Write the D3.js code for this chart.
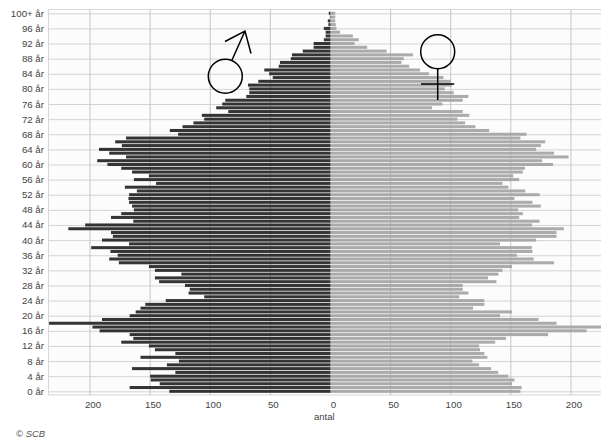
<!DOCTYPE html>
<html>
<head>
<meta charset="utf-8">
<script src="https://cdn.jsdelivr.net/npm/d3@7"></script>
<style>
html, body { margin:0; padding:0; background:#fff; }
svg { display:block; }
text { font-family:"Liberation Sans", Arial, sans-serif; }
</style>
</head>
<body>
<svg></svg>
<script>
// ages 0 .. 100+
var men = [134,167,142,149.5,150,129,165,136,126,158,129,146,151,174,164,167,192,198,234,190,
  167,162,158,154,137,105,118,117,121,142.5,146,124,146,151,176,184,177,183,199,167.5,
  190,181,182.5,218,204,164,182.5,174,163.5,165,167.5,168,167.5,161,171,145,163.5,151,165,174,
  185.5,194,170,184,192.5,173.5,179,170,126.7,133.6,123,114,105,107,85,95,90,87.5,70,67.5,
  67.5,68.6,60,48,51,55,43,42,33,32,23,14,14,5.5,4,4,5.5,1.7,2.2,0.5,1.4];
var women = [158,159,151,153,148,139.5,133.6,123.6,118,130.5,128,124.4,123.6,137,146,181,213,226,188,173,
  141,151,118.6,128,128,107,114.7,110,110,138,131,139.7,143,151,186,169,155,168,167.5,141,
  171,188,188,194,167.5,174,157,160,156,175,168,153,174,162,148,143,157,152,160,161.7,
  185,176,198,186,171,175,178.6,158,163,132,120.5,112,105.5,115.5,110,84.4,93,110,114.7,102.5,
  95,101,100,94,82,74.4,65.5,59,61,68.6,46.7,30.5,20,23.6,18.6,8,5,4.5,4,4,4];
var ages = d3.range(0,101);
var ageTicks = d3.range(0,101,4);
var xTicks = [-200,-150,-100,-50,0,50,100,150,200];

var screen = { width:601, height:439 };
var plot = { left:48.5, right:601, top:9.5, bottom:395 };

var svg = d3.select("svg")
            .attr("width",screen.width)
            .attr("height",screen.height);

// the source picture is a soft jpeg, the bars need a touch of blur
svg.append("defs")
   .append("filter")
   .attr("id","soft")
   .attr("x","-2%").attr("y","-2%")
   .attr("width","104%").attr("height","104%")
   .append("feGaussianBlur")
   .attr("stdDeviation",0.35);

var xScale = d3.scaleLinear()
               .domain([-234.5,225])
               .range([plot.left,plot.right]);

var yScale = d3.scaleBand()
               .domain(ages)
               .range([393.2,11.4])
               .paddingInner(0.2)
               .paddingOuter(0.1);

var yMid = function(a){ return yScale(a)+yScale.bandwidth()/2; };

svg.append("rect")
   .attr("x",plot.left)
   .attr("y",plot.top)
   .attr("width",plot.right-plot.left)
   .attr("height",plot.bottom-plot.top)
   .attr("fill","#fcfcfc");

// frame lines
svg.append("path")
   .attr("d","M"+plot.left+","+plot.bottom+"V"+plot.top+"H"+plot.right)
   .attr("fill","none")
   .attr("stroke","#d8d8d8");

svg.append("line")
   .attr("x1",plot.left).attr("x2",plot.right)
   .attr("y1",plot.bottom).attr("y2",plot.bottom)
   .attr("stroke","#d8d8d8");

// grid
svg.selectAll(".hgrid")
   .data(ageTicks)
   .enter()
   .append("line")
   .attr("class","hgrid")
   .attr("x1",plot.left).attr("x2",plot.right)
   .attr("y1",function(d){return yMid(d)+0.5;})
   .attr("y2",function(d){return yMid(d)+0.5;})
   .attr("stroke","#d4d4d4");

svg.selectAll(".vgrid")
   .data(xTicks.filter(function(d){return d!=0;}))
   .enter()
   .append("line")
   .attr("class","vgrid")
   .attr("x1",function(d){return xScale(d);})
   .attr("x2",function(d){return xScale(d);})
   .attr("y1",plot.top).attr("y2",plot.bottom)
   .attr("stroke","#c6c6c6");

// bars
var bars = svg.append("g").attr("filter","url(#soft)");

bars.append("g").selectAll("rect")
   .data(women)
   .enter()
   .append("rect")
   .attr("x",xScale(0))
   .attr("y",function(d,i){return yScale(i);})
   .attr("width",function(d){return xScale(d)-xScale(0);})
   .attr("height",yScale.bandwidth())
   .attr("fill","#a4a4a4")
   .attr("fill-opacity",0.92);

bars.append("g").selectAll("rect")
   .data(men)
   .enter()
   .append("rect")
   .attr("x",function(d){return xScale(-d);})
   .attr("y",function(d,i){return yScale(i);})
   .attr("width",function(d){return xScale(0)-xScale(-d);})
   .attr("height",yScale.bandwidth())
   .attr("fill","#2b2b2b")
   .attr("fill-opacity",0.96);

// axes
var xAxis = d3.axisBottom(xScale)
              .tickValues(xTicks)
              .tickSize(0)
              .tickFormat(function(d){return Math.abs(d);});

var xG = svg.append("g")
            .attr("transform","translate(2.5,"+(plot.bottom+3.5)+")")
            .call(xAxis);

var yAxis = d3.axisLeft(yScale)
              .tickValues(ageTicks)
              .tickSize(0)
              .tickFormat(function(d){return d==100 ? "100+ år" : d+" år";});

var yG = svg.append("g")
            .attr("transform","translate(47,0.4)")
            .call(yAxis);

xG.select(".domain").remove();
yG.select(".domain").remove();
svg.selectAll("g text").attr("font-size",9.7).attr("fill","#444")
   .style("font-family","'Liberation Sans', Arial, sans-serif");

svg.append("text")
   .attr("x",324.3).attr("y",420)
   .attr("text-anchor","middle")
   .attr("font-size",9.5)
   .attr("fill","#444")
   .text("antal");

svg.append("text")
   .attr("x",16).attr("y",436.5)
   .attr("font-size",9.5)
   .attr("font-style","italic")
   .attr("fill","#555")
   .text("© SCB");

// gender symbols drawn over the chart
var symbols = svg.append("g")
                 .attr("fill","none")
                 .attr("stroke","#000")
                 .attr("stroke-width",1.5);

symbols.append("circle").attr("cx",225.3).attr("cy",76.3).attr("r",17);
symbols.append("path").attr("d","M232,60L245,31M225,41.5L245,31L251,53.5");
symbols.append("circle").attr("cx",437.7).attr("cy",51.7).attr("r",17);
symbols.append("path").attr("d","M437.7,68.7V100M421,84H454.3");
</script>
</body>
</html>
